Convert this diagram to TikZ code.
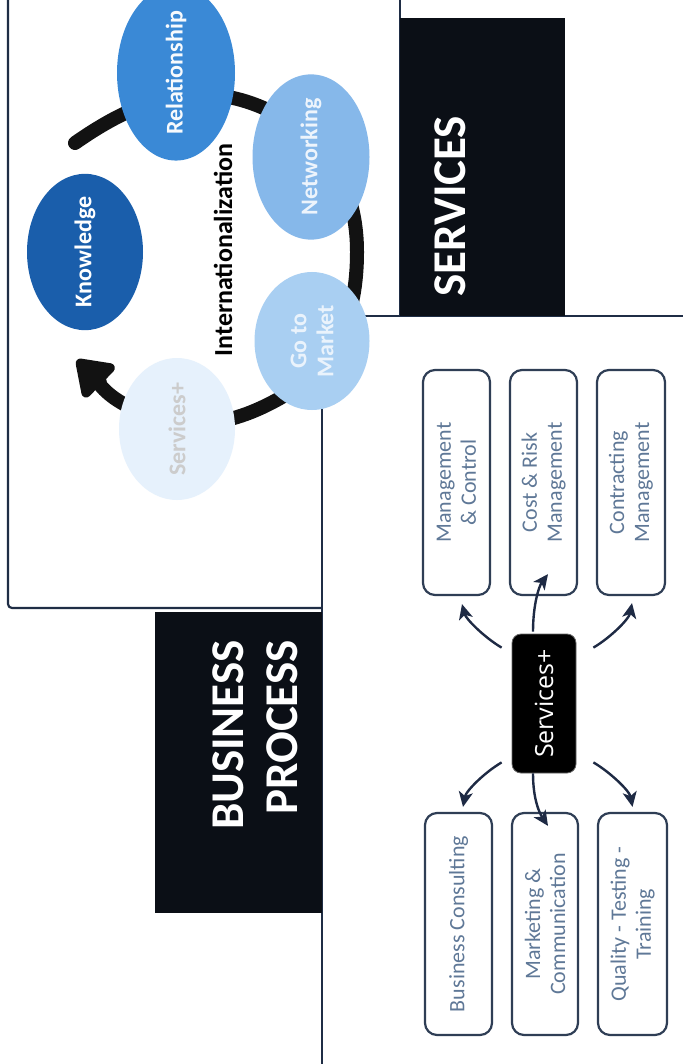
\documentclass[tikz,border=0pt]{standalone}
\usepackage{fontspec}
\setmainfont{Carlito}
\newfontfamily\osans{Open Sans}
\usetikzlibrary{arrows.meta,shapes.geometric,calc}
\definecolor{frameline}{HTML}{1F2D45}
\definecolor{boxline}{HTML}{2F3E55}
\definecolor{boxtext}{HTML}{5F7897}
\definecolor{darkbox}{HTML}{0B0F16}
\definecolor{cknow}{HTML}{1A5EAB}
\definecolor{crel}{HTML}{3A89D6}
\definecolor{cnet}{HTML}{86B8EA}
\definecolor{cgtm}{HTML}{A9CFF2}
\definecolor{csrv}{HTML}{E6F1FC}
\definecolor{arrowc}{HTML}{1E2A44}
\begin{document}
\begin{tikzpicture}[x=1pt,y=1pt,
  frame/.style={draw=frameline,line width=2.2pt},
  blackbox/.style={rectangle,fill=darkbox,draw=none,inner sep=0pt},
  title/.style={rotate=90,inner sep=0pt,text=white,font=\fontsize{47}{54}\selectfont\bfseries},
  circ/.style={ellipse,rotate=90,inner sep=0pt,align=center,
    font=\fontsize{24}{27}\selectfont\bfseries},
  svbox/.style={rectangle,rounded corners=12pt,draw=boxline,line width=2.2pt,fill=white,
    rotate=90,align=center,text=boxtext,inner sep=0pt,
    font=\fontsize{22}{25}\selectfont},
  conn/.style={draw=arrowc,line width=2.4pt,-{Stealth[length=15pt,width=14pt,inset=4pt]}},
  cyc/.style={draw=black!93,line width=14pt,line cap=round,
    -{Triangle[length=38pt,width=50pt,round]}}
]
\useasboundingbox (0,0) rectangle (683,-1064);
\fill[white] (0,0) rectangle (683,-1064);

% frame lines
\draw[frame,rounded corners=4pt] (8,0) -- (8,-608) -- (322,-608);
\draw[frame] (322,-1064) -- (322,-316) -- (683,-316);
\draw[frame] (400,0) -- (400,-316);

% black title boxes
\node[blackbox,minimum width=165pt,minimum height=298pt] (svcbox) at (482.5,-167) {};
\node[title,anchor=base west] (svctext) at (465,-297) {SERVICES};
\node[blackbox,minimum width=167pt,minimum height=301pt] (bpbox) at (238.5,-762.5) {};
\node[title,anchor=north east,align=right] (bptext) at (212,-640) {BUSINESS\\PROCESS};

% cycle arc
\coordinate (arcstart) at (75,-143);
\coordinate (arctip) at (77,-360);
\draw[cyc] (arcstart) to[out=35,in=155] (268,-110) to[out=-25,in=90] (357,-252)
  to[out=-90,in=30] (282,-397) to[out=210,in=-30] (122,-403) to[out=150,in=-44] (arctip);

% circles
\node[circ,fill=cknow,text=white,minimum width=138pt,minimum height=116pt] (know) at (85,-252) {Knowledge};
\node[circ,fill=crel,text=white!96!crel,minimum width=137pt,minimum height=118pt] (rel) at (176,-73) {Relationship};
\node[circ,fill=cnet,text=white!85!cnet,minimum width=140pt,minimum height=117pt] (net) at (311,-157) {Networking};
\node[circ,fill=cgtm,text=white!75!cgtm,minimum width=138pt,minimum height=115pt] (gtm) at (312,-341) {Go to\\Market};
\node[circ,fill=csrv,text=black!20,minimum width=142pt,minimum height=116pt] (srv) at (177,-429) {Services+};

\node[rotate=90,anchor=base,inner sep=0pt,font=\fontsize{26}{30}\selectfont\bfseries] (intl) at (232,-250) {Internationalization};

% services+ hub
\node[rectangle,rounded corners=9pt,fill=black,draw=black!60,line width=0.8pt,rotate=90,
  minimum width=139pt,minimum height=64pt,inner sep=0pt,text=white,
  font=\osans\fontsize{25}{28}\selectfont] (S) at (544,-703.5) {Services+};

% service boxes
\node[svbox,minimum width=225pt,minimum height=67pt] (M) at (456.5,-482.5) {Management\\\& Control};
\node[svbox,minimum width=225pt,minimum height=67pt] (C) at (543.5,-482.5) {Cost \& Risk\\Management};
\node[svbox,minimum width=225pt,minimum height=68pt] (K) at (631,-482.5) {Contracting\\Management};
\node[svbox,minimum width=222pt,minimum height=67pt] (B) at (458.5,-924) {Business Consulting};
\node[svbox,minimum width=222pt,minimum height=66pt] (Mk) at (545,-924) {Marketing \&\\Communication};
\node[svbox,minimum width=222pt,minimum height=69pt] (Q) at (632.5,-924) {Quality - Testing -\\Training};

% connectors
\draw[conn] ($(S.north east)+(-10,-14)$) .. controls +(-17,10) and +(4,-15) .. ($(M.west)+(5.5,-8)$);
\draw[conn] ($(S.east)+(-11,2)$) .. controls +(0,27) and +(-9,-12) .. ($(C.west)+(4.5,22)$);
\draw[conn] ($(S.south east)+(17,-14)$) .. controls +(17,10) and +(-3,-16) .. ($(K.west)+(1,-7)$);
\draw[conn] ($(S.north west)+(-10,11)$) .. controls +(-17,-10) and +(3,16) .. ($(B.east)+(4.5,5)$);
\draw[conn] ($(S.west)+(-11,0)$) .. controls +(0,-27) and +(-8,12) .. ($(Mk.east)+(3,-14)$);
\draw[conn] ($(S.south west)+(17,11)$) .. controls +(17,-10) and +(-3,16) .. ($(Q.east)+(0,5)$);
\end{tikzpicture}
\end{document}
